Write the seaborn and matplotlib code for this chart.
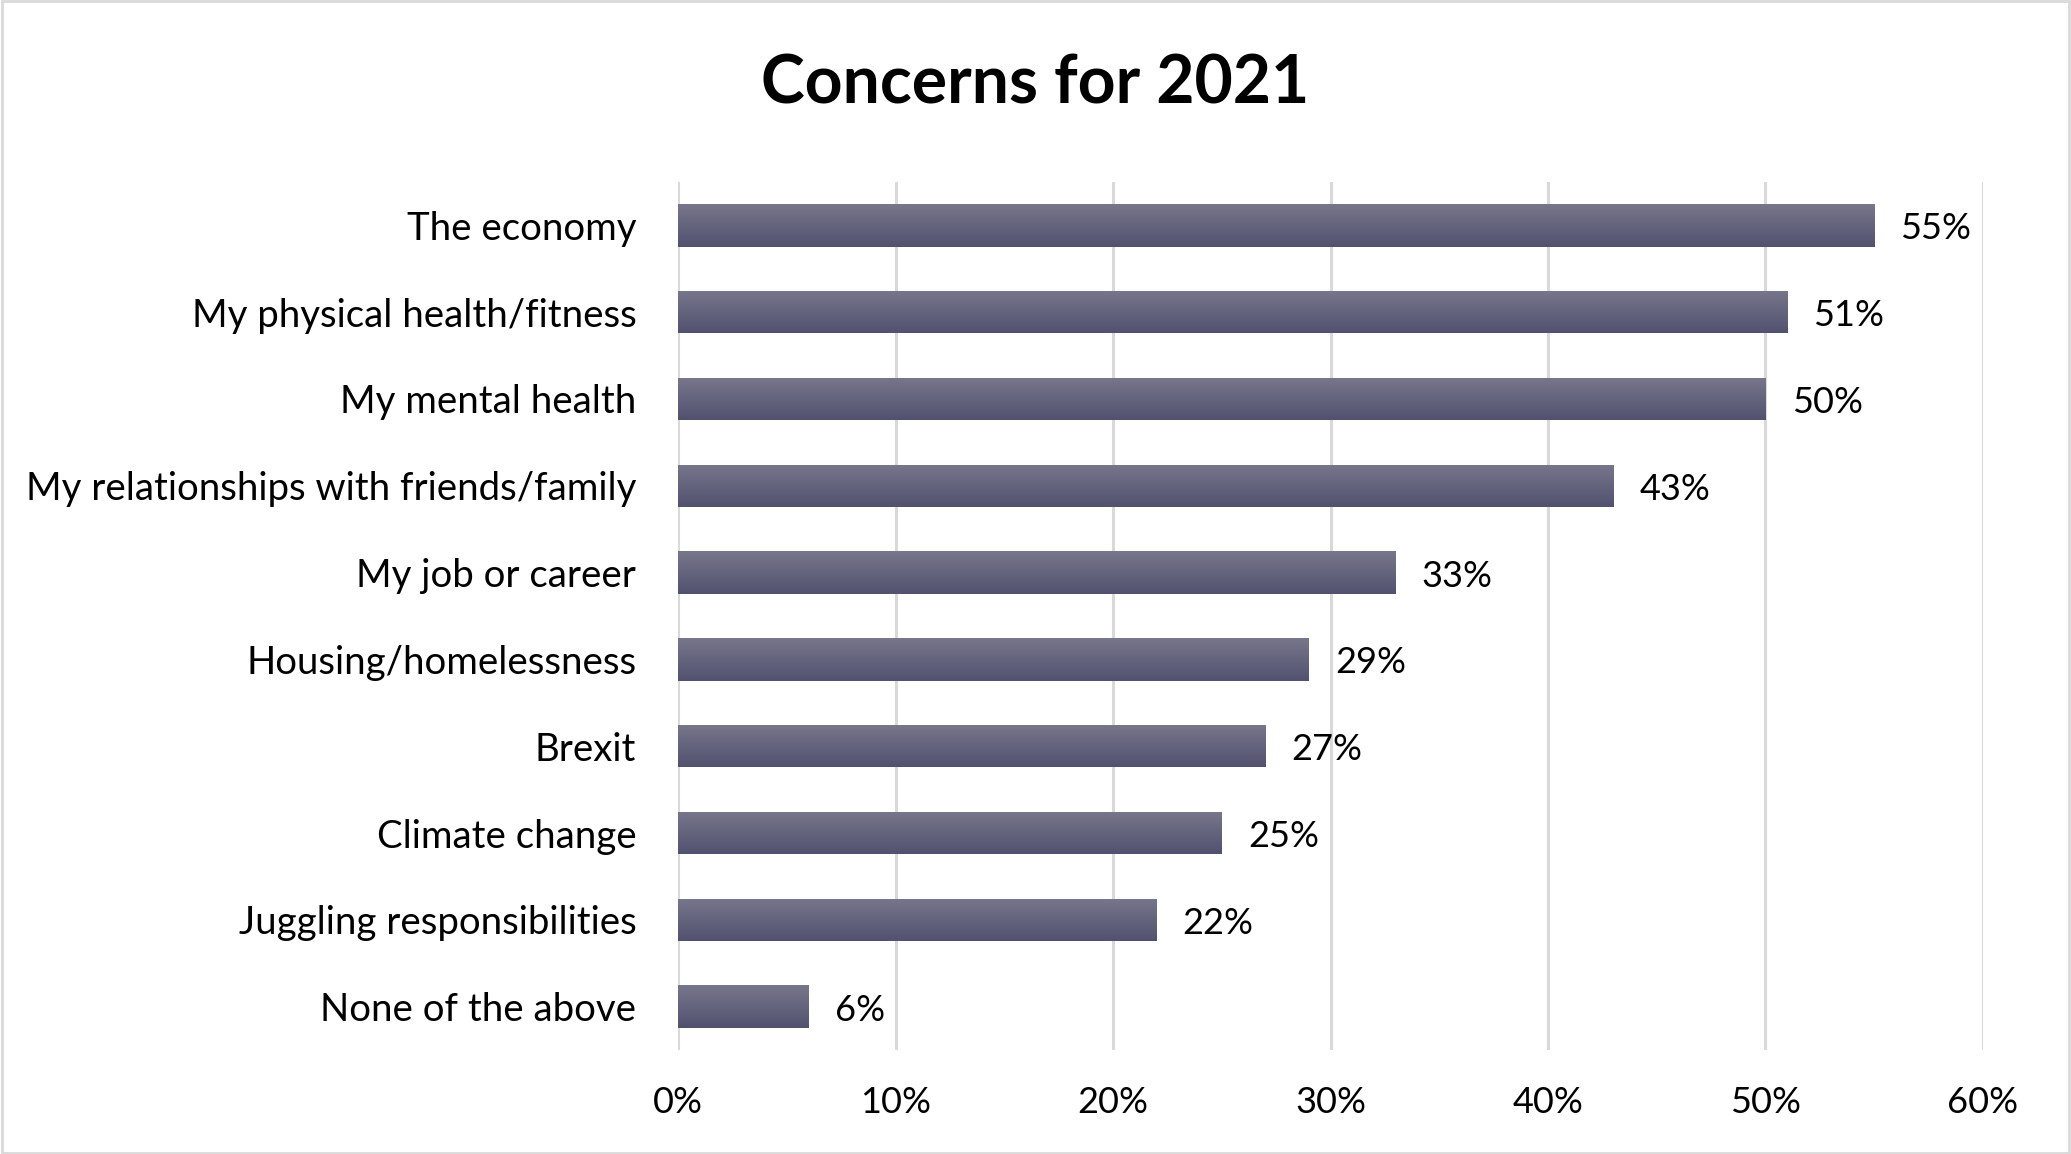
import numpy as np
import pandas as pd
import matplotlib.pyplot as plt
import seaborn as sns
from matplotlib.colors import LinearSegmentedColormap
from matplotlib.patches import Rectangle

# Data
categories = ["The economy",
              "My physical health/fitness",
              "My mental health",
              "My relationships with friends/family",
              "My job or career",
              "Housing/homelessness",
              "Brexit",
              "Climate change",
              "Juggling responsibilities",
              "None of the above"]
values = [55, 51, 50, 43, 33, 29, 27, 25, 22, 6]
x_ticks = [0, 10, 20, 30, 40, 50, 60]

df = pd.DataFrame({"concern": categories, "pct": values})

sns.set_theme(style="white")
plt.rcParams['font.family'] = ['Lato', 'DejaVu Sans']
plt.rcParams['text.color'] = 'black'
plt.rcParams['xtick.color'] = 'black'
plt.rcParams['ytick.color'] = 'black'

fig = plt.figure(figsize=(20.71, 11.54), dpi=100)
ax = fig.add_axes([678 / 2071, 1 - 1050 / 1154, (1983 - 678) / 2071, (1050 - 182) / 1154])

sns.barplot(data=df, x="pct", y="concern", color="#605f7b", width=0.49, ax=ax, zorder=3)

# vertical gradient on each bar (light on top, dark at bottom)
grad = LinearSegmentedColormap.from_list("bar", ["#77768b", "#525270"])
for p in ax.patches:
    x0, y0 = p.get_x(), p.get_y()
    w, h = p.get_width(), p.get_height()
    img = ax.imshow(np.linspace(0, 1, 64).reshape(-1, 1), cmap=grad, aspect="auto",
                    extent=[x0, x0 + w, y0 + h, y0], origin="upper", zorder=3)
    img.set_clip_path(p)
    p.set_alpha(0)

ax.set_xlim(0, 60)
ax.set_ylim(9.5, -0.5)
ax.set_xticks(x_ticks)
ax.set_xticklabels([f"{t}%" for t in x_ticks], fontsize=26)
ax.tick_params(axis="y", labelsize=27.6, pad=30, length=0)
ax.tick_params(axis="x", pad=26, length=0)
ax.xaxis.grid(True, color="#d9d9d9", linewidth=2.2, zorder=0)
ax.set_axisbelow(True)
for s in ax.spines.values():
    s.set_visible(False)
ax.set_xlabel("")
ax.set_ylabel("")

for i, v in enumerate(values):
    ax.text(v + 1.2, i + 0.04, f"{v}%", va="center", ha="left", fontsize=26, color="black")

fig.text(0.5, 1 - 85 / 1154, "Concerns for 2021", ha="center", va="center",
         fontsize=47.5, fontweight="bold", color="black")

fig.patches.append(Rectangle((0.001, 0.001), 0.998, 0.998, transform=fig.transFigure,
                             fill=False, edgecolor="#d9d9d9", linewidth=2))

fig.savefig("out.png", dpi=100)
